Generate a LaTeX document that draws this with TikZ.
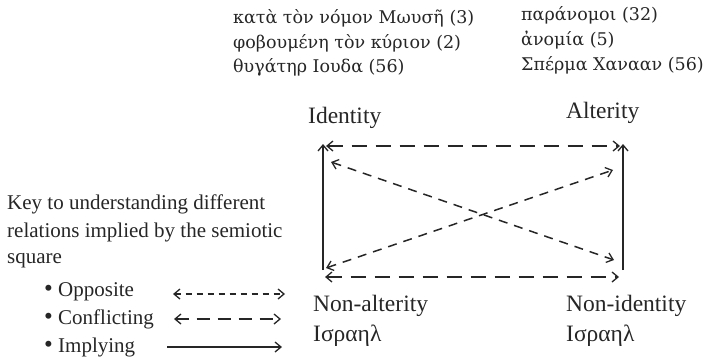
\documentclass[tikz,border=0pt]{standalone}
\usepackage{fontspec}
\setmainfont{Liberation Serif}
\newfontfamily\grkfont{DejaVu Serif}
\usetikzlibrary{arrows.meta}
\newcommand{\keybullet}{{\fontsize{25}{25}\selectfont\textbullet}}
\tikzset{
  x=1pt,y=-1pt,
  tip/.tip={Straight Barb[length=6pt,width=10pt,line width=1.3pt]},
  rel/.style={line width=1.5pt,draw=black!85},
  implying/.style={rel,-tip},
  conflicting/.style={rel,tip-tip,dash pattern=on 15pt off 9pt},
  opposite/.style={rel,tip-tip,dash pattern=on 9pt off 7pt},
  greek/.style={anchor=west,inner sep=0pt,font=\grkfont\fontsize{17.5}{21}\selectfont,text=black!85},
  label/.style={anchor=west,inner sep=0pt,font=\fontsize{23.5}{28}\selectfont,text=black!85},
  keytext/.style={anchor=west,inner sep=0pt,font=\fontsize{21}{25}\selectfont,text=black!85},
}
\begin{document}
\begin{tikzpicture}
\useasboundingbox (0,0) rectangle (704,361);
% Greek lists
\node[greek] (g1) at (233,18) {κατὰ τὸν νόμον Μωυσῆ (3)};
\node[greek] (g2) at (233,43) {φοβουμένη τὸν κύριον (2)};
\node[greek] (g3) at (233,67) {θυγάτηρ Ιουδα (56)};
\node[greek] (g4) at (521,15) {παράνομοι (32)};
\node[greek] (g5) at (521,40) {ἀνομία (5)};
\node[greek] (g6) at (521,65) {Σπέρμα Χανααν (56)};
% labels
\node[label] (id) at (308,118) {Identity};
\node[label] (alt) at (566,113) {Alterity};
\node[label] (nalt) at (313,306) {Non-alterity};
\node[label] (nid) at (566,306) {Non-identity};
\node[label] (is1) at (313,336) {Ισραηλ};
\node[label] (is2) at (566,336) {Ισραηλ};
% square coordinates
\coordinate (tl) at (323,144);
\coordinate (bl) at (323,270);
\coordinate (tr) at (623,144);
\coordinate (br) at (623,270);
\coordinate (t1) at (326,146);
\coordinate (t2) at (620,146);
\coordinate (b1) at (325,277);
\coordinate (b2) at (619,277);
\coordinate (d1a) at (331,162);
\coordinate (d1b) at (614,260);
\coordinate (d2a) at (326,268);
\coordinate (d2b) at (613,170);
\draw[implying] (bl) -- (tl);
\draw[implying] (br) -- (tr);
\draw[conflicting] (t1) -- (t2);
\draw[conflicting] (b1) -- (b2);
\draw[opposite] (d1a) -- (d1b);
\draw[opposite] (d2a) -- (d2b);
% key
\node[keytext] (k1) at (7,204) {Key to understanding different};
\node[keytext] (k2) at (7,232) {relations implied by the semiotic};
\node[keytext] (k3) at (7,261) {square};
\node[keytext] (o) at (44,292) {\keybullet\ Opposite};
\node[keytext] (c) at (44,319) {\keybullet\ Conflicting};
\node[keytext] (i) at (44,347) {\keybullet\ Implying};
\coordinate (oa) at (173,294);
\coordinate (ob) at (285,294);
\coordinate (ca) at (174,319);
\coordinate (cb) at (281,319);
\coordinate (ia) at (167,347);
\coordinate (ib) at (282,347);
\draw[opposite,dash pattern=on 6pt off 5pt] (oa) -- (ob);
\draw[conflicting,dash pattern=on 13pt off 8pt] (ca) -- (cb);
\draw[implying] (ia) -- (ib);
\end{tikzpicture}
\end{document}
